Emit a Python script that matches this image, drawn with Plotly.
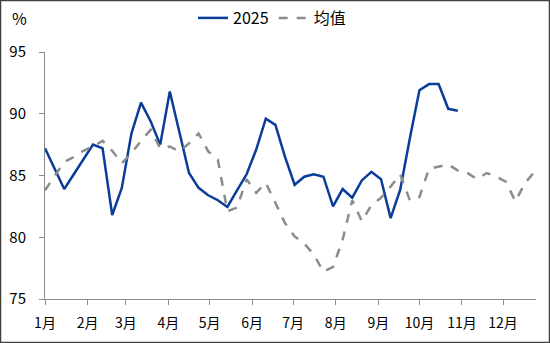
import plotly.graph_objects as go
import pandas as pd

# weekly data (week index from Jan 1)
y2025 = [87.2, 85.5, 83.9, 85.1, 86.3, 87.5, 87.2, 81.8, 84.0, 88.4,
         90.9, 89.4, 87.5, 91.8, 88.5, 85.2, 84.0, 83.4, 83.0, 82.45,
         83.8, 85.1, 87.1, 89.6, 89.1, 86.5, 84.25, 84.9, 85.1, 84.9,
         82.5, 83.9, 83.2, 84.6, 85.3, 84.7, 81.55, 83.85, 88.0, 91.9,
         92.4, 92.4, 90.4, 90.25]
avg = [83.8, 85.0, 86.1, 86.5, 87.0, 87.35, 87.8, 87.0, 86.0, 86.8,
       87.8, 88.7, 87.2, 87.35, 86.95, 87.6, 88.4, 86.95, 86.3, 82.1,
       82.4, 84.7, 83.6, 84.4, 82.8, 81.15, 80.07, 79.5, 78.6, 77.2,
       77.6, 79.8, 83.0, 81.3, 82.6, 83.2, 84.1, 85.1, 83.0, 83.25,
       85.55, 85.7, 85.9, 85.4, 85.2, 84.7, 85.2, 84.9, 84.5, 82.9,
       84.4, 85.3]
month_ticks = ["2025-%02d-01" % m for m in range(1, 13)]
month_labels = ["%d月" % m for m in range(1, 13)]
y_ticks = [75, 80, 85, 90, 95]

dates_avg = pd.date_range("2025-01-01", periods=len(avg), freq="7D")
dates_2025 = dates_avg[:len(y2025)]

BLUE = "#0a3d99"
GRAY = "#8c8c8c"
FONT = "Noto Sans CJK SC, Open Sans, sans-serif"

fig = go.Figure()
fig.add_trace(go.Scatter(x=dates_2025, y=y2025, mode="lines", name="2025",
                         line=dict(color=BLUE, width=2.5)))
fig.add_trace(go.Scatter(x=dates_avg, y=avg, mode="lines", name="均值",
                         line=dict(color=GRAY, width=2.5, dash="dash")))

L, R, T, B = 45, 14, 52, 44
W, H = 550, 343
pw, ph = W - L - R, H - T - B

fig.update_layout(
    width=W, height=H,
    margin=dict(l=L, r=R, t=T, b=B, autoexpand=False),
    paper_bgcolor="white", plot_bgcolor="white",
    font=dict(family=FONT, size=14, color="#000000"),
    showlegend=True,
    legend=dict(orientation="h", xref="container", yref="container",
                x=193 / W, xanchor="left",
                y=1 - 18 / H, yanchor="middle",
                font=dict(size=16), bgcolor="rgba(0,0,0,0)",
                itemwidth=30, tracegroupgap=0),
    xaxis=dict(type="date", range=["2025-01-01", "2025-12-25"],
               tickvals=month_ticks, ticktext=month_labels,
               showgrid=False, zeroline=False,
               showline=True, linecolor="#8c8c8c", linewidth=1,
               ticks="outside", ticklen=5, tickcolor="#8c8c8c",
               ticklabelstandoff=6, automargin=False,
               tickfont=dict(size=14)),
    yaxis=dict(range=[75, 95], tickvals=y_ticks,
               showgrid=False, zeroline=False,
               showline=True, linecolor="#8c8c8c", linewidth=1,
               ticks="outside", ticklen=5, tickcolor="#8c8c8c",
               ticklabelstandoff=10, automargin=False,
               tickfont=dict(size=15)),
)

fig.add_annotation(text="%", xref="paper", yref="paper",
                   x=(10 - L) / pw, y=1 + (T - 18) / ph,
                   xanchor="left", yanchor="middle", showarrow=False,
                   font=dict(size=16))

# outer border around the whole picture
fig.add_shape(type="rect", xref="paper", yref="paper",
              x0=(0.5 - L) / pw, x1=(W - 0.5 - L) / pw,
              y0=-(B - 0.5) / ph, y1=1 + (T - 0.5) / ph,
              line=dict(color="#404040", width=1.5), layer="above")

fig.write_html("out.html")
